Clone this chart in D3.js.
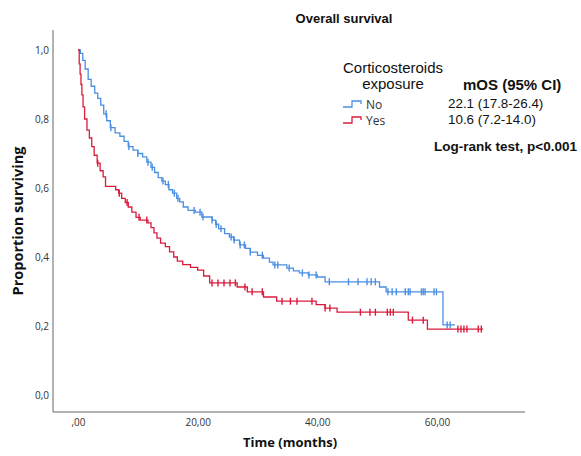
<!DOCTYPE html>
<html><head><meta charset="utf-8">
<script src="https://cdn.jsdelivr.net/npm/d3@7"></script>
<style>body{margin:0;background:#fff}svg{display:block}</style>
</head><body><svg id="c" width="581" height="456"></svg>
<script>
// ---- data ----
const groups = ["No", "Yes"];
const mosText = ["22.1 (17.8-26.4)", "10.6 (7.2-14.0)"];
const xTicks = [0, 20, 40, 60];
const xTickLabels = [",00", "20,00", "40,00", "60,00"];
const yTicks = [0, 0.2, 0.4, 0.6, 0.8, 1.0];
const yTickLabels = ["0,0", "0,2", "0,4", "0,6", "0,8", "1,0"];

// step events [time, survival] for "No" (blue)
const noEvents = [[0,1],[0.4,0.99],[0.8,0.97],[1.2,0.945],[1.7,0.915],[2.2,0.895],[2.8,0.875],[3.3,0.86],[3.8,0.84],[4.3,0.815],[4.8,0.795],[5.4,0.775],[6.2,0.76],[7,0.75],[7.7,0.735],[8.4,0.72],[9.2,0.71],[10,0.70],[10.8,0.69],[11.5,0.675],[12.2,0.66],[12.8,0.645],[13.4,0.63],[14,0.62],[14.6,0.61],[15.2,0.595],[15.8,0.585],[16.5,0.57],[17,0.56],[17.6,0.545],[18.4,0.535],[19.6,0.53],[20.7,0.516],[22.4,0.507],[23,0.495],[23.5,0.482],[24.5,0.468],[25.3,0.458],[26,0.449],[27,0.435],[28,0.425],[28.8,0.414],[30,0.405],[31,0.397],[32,0.385],[32.6,0.377],[34.9,0.368],[36,0.36],[37,0.354],[38.5,0.348],[40,0.342],[41.3,0.328],[50.4,0.313],[51.5,0.299],[61,0.203]];
const noEnd = 63;
const noCensor = [4.7,5.5,8.5,10,11.7,12.4,14.2,15.1,16.1,16.7,19.4,20.4,20.9,22.4,23.1,23.9,25.6,26.1,27.1,27.8,28.8,30.8,32.9,33.4,35.3,37.5,38.6,39.8,42,45.2,46.8,48.3,49,49.7,51.8,52.5,53.2,54.7,55.2,55.5,57.4,57.7,58,59.5,59.9,61.7,62.2];

// step events for "Yes" (red)
const yesEvents = [[0,1],[0.2,0.96],[0.35,0.93],[0.5,0.9],[0.65,0.87],[0.84,0.835],[1.1,0.8],[1.5,0.768],[1.9,0.745],[2.3,0.72],[2.7,0.695],[3.2,0.672],[3.7,0.65],[4.2,0.632],[4.6,0.605],[6.3,0.595],[6.8,0.585],[7.3,0.57],[7.9,0.558],[8.4,0.545],[9,0.53],[9.7,0.515],[10.4,0.507],[11.7,0.499],[12.2,0.485],[12.7,0.47],[13.2,0.455],[13.8,0.44],[14.6,0.43],[15.3,0.415],[16,0.4],[16.6,0.388],[17.5,0.378],[18.8,0.37],[20,0.362],[21,0.345],[22,0.325],[26.6,0.313],[28.3,0.299],[31,0.284],[33.2,0.272],[39.8,0.262],[41.3,0.252],[43.3,0.240],[55.2,0.217],[58.4,0.191]];
const yesEnd = 67.7;
const yesCensor = [3.3,6.9,8.2,10.2,11.5,22.4,23.4,24.4,25.4,26.3,27.9,29.1,30.8,34.1,35.5,36.6,39.1,41.3,42.1,47.2,48.8,49.7,51.7,52.2,52.7,55.9,57.7,63.5,64,64.5,65,66.9,67.4];

const colors = ["#4a8fe3", "#d91c3c"];

// ---- drawing ----
const svg = d3.select("#c");
svg.append("rect").attr("width",581).attr("height",456).attr("fill","#fff");

const x = d3.scaleLinear().domain([0, 60]).range([78, 437]);
const y = d3.scaleLinear().domain([0, 1]).range([395, 50]);

// frame lines
svg.append("line").attr("x1",53).attr("x2",53).attr("y1",30).attr("y2",412).attr("stroke","#666").attr("stroke-width",1);
svg.append("line").attr("x1",53).attr("x2",525).attr("y1",412).attr("y2",412).attr("stroke","#666").attr("stroke-width",1);

const tickFont = "'Open Sans', sans-serif";
const yAxis = svg.append("g").attr("transform","translate(53,0)")
  .call(d3.axisLeft(y).tickValues(yTicks).tickSize(0).tickPadding(4)
    .tickFormat((d,i)=>yTickLabels[i]));
yAxis.select(".domain").remove();
yAxis.selectAll("text").attr("font-family",tickFont).attr("font-size",10).attr("fill","#333");

const xAxis = svg.append("g").attr("transform","translate(0,412)")
  .call(d3.axisBottom(x).tickValues(xTicks).tickSize(0).tickPadding(7)
    .tickFormat((d,i)=>xTickLabels[i]));
xAxis.select(".domain").remove();
xAxis.selectAll("text").attr("font-family",tickFont).attr("font-size",10).attr("fill","#333");

// axis titles
svg.append("text").attr("x",290).attr("y",447).attr("text-anchor","middle")
  .attr("font-family","'Open Sans', sans-serif").attr("font-weight","bold").attr("font-size",13)
  .attr("fill","#111").text("Time (months)");
svg.append("text").attr("transform","translate(23,221) rotate(-90)").attr("text-anchor","middle")
  .attr("font-family","'Open Sans', sans-serif").attr("font-weight","bold").attr("font-size",14.5)
  .attr("fill","#111").text("Proportion surviving");

// title
svg.append("text").attr("x",344).attr("y",23).attr("text-anchor","middle")
  .attr("font-family","'Liberation Sans', Arial, sans-serif").attr("font-weight","bold").attr("font-size",13)
  .attr("fill","#111").text("Overall survival");

// curves
const line = d3.line().x(d=>x(d[0])).y(d=>y(d[1])).curve(d3.curveStepAfter);
function stepAt(ev, t){ let s = ev[0][1]; for (const e of ev){ if (e[0] <= t) s = e[1]; } return s; }
const series = [
  {ev: noEvents, end: noEnd, cens: noCensor, color: colors[0]},
  {ev: yesEvents, end: yesEnd, cens: yesCensor, color: colors[1]}
];
series.forEach(s=>{
  const pts = s.ev.concat([[s.end, s.ev[s.ev.length-1][1]]]);
  svg.append("path").attr("d", line(pts)).attr("fill","none").attr("stroke",s.color).attr("stroke-width",1.3);
  svg.append("g").selectAll("line").data(s.cens).join("line")
    .attr("x1",d=>x(d)).attr("x2",d=>x(d))
    .attr("y1",d=>y(stepAt(s.ev,d))-3.5).attr("y2",d=>y(stepAt(s.ev,d))+3.5)
    .attr("stroke",s.color).attr("stroke-width",1.4);
});

// legend
const lf = "'Liberation Sans', Arial, sans-serif";
svg.append("text").attr("x",393).attr("y",73).attr("text-anchor","middle").attr("font-family",lf)
  .attr("font-size",15).attr("fill","#111").text("Corticosteroids");
svg.append("text").attr("x",393).attr("y",89).attr("text-anchor","middle").attr("font-family",lf)
  .attr("font-size",15).attr("fill","#111").text("exposure");
svg.append("text").attr("x",463).attr("y",90).attr("font-family",lf).attr("font-weight","bold")
  .attr("font-size",15).attr("fill","#111").text("mOS (95% CI)");
const legY = [108, 124];
groups.forEach((g,i)=>{
  const yy = legY[i];
  svg.append("path").attr("d",`M343,${yy-1}H352V${yy-7}H361V${yy-4}`).attr("fill","none")
    .attr("stroke",colors[i]).attr("stroke-width",1.3);
  svg.append("text").attr("x",366).attr("y",yy+1).attr("font-family","'Open Sans', sans-serif")
    .attr("font-size",12).attr("fill","#333").text(g);
  svg.append("text").attr("x",448).attr("y",yy).attr("font-family",lf)
    .attr("font-size",13.4).attr("fill","#111").text(mosText[i]);
});
svg.append("text").attr("x",434).attr("y",151).attr("font-family",lf).attr("font-weight","bold")
  .attr("font-size",13.5).attr("fill","#111").text("Log-rank test, p<0.001");
</script></body></html>
